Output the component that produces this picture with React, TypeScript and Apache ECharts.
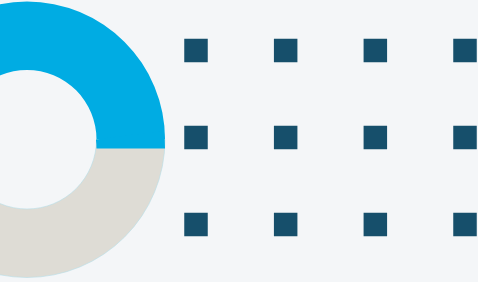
import React, { useEffect, useRef } from "react";
import * as echarts from "echarts";

// Donut shares
const donutLabels = ["Part A", "Part B"];
const donutValues = [50, 50];
const donutColors = ["#00ACE3", "#DEDCD5"];

// Grid of markers (column, row)
const markerColumns = [0, 1, 2, 3];
const markerRows = [0, 1, 2];

export default function App() {
  const ref = useRef<HTMLDivElement>(null);

  useEffect(() => {
    if (!ref.current) return;
    const chart = echarts.init(ref.current, undefined, { renderer: "svg" });

    const markerData: number[][] = [];
    markerRows.forEach((r) => markerColumns.forEach((c) => markerData.push([c, r])));

    chart.setOption({
      animation: false,
      backgroundColor: "#F4F6F8",
      grid: { left: 196, top: 50.5, width: 269, height: 174 },
      xAxis: { type: "value", min: 0, max: 3, show: false },
      yAxis: { type: "value", min: 0, max: 2, inverse: true, show: false },
      series: [
        {
          type: "pie",
          silent: true,
          center: [27, 139.5],
          radius: [69.5, 138],
          startAngle: 180,
          clockwise: true,
          label: { show: false },
          labelLine: { show: false },
          emphasis: { disabled: true },
          data: donutValues.map((v, i) => ({
            name: donutLabels[i],
            value: v,
            itemStyle: {
              color: donutColors[i],
              borderColor: i === 1 ? "#B5DDE8" : donutColors[i],
              borderWidth: i === 1 ? 0.6 : 0,
            },
          })),
        },
        {
          type: "pie",
          silent: true,
          center: [27, 148.5],
          radius: [69.5, 138],
          startAngle: 0,
          endAngle: 7.4,
          clockwise: false,
          label: { show: false },
          labelLine: { show: false },
          emphasis: { disabled: true },
          data: [{ name: donutLabels[0], value: donutValues[0], itemStyle: { color: donutColors[0] } }],
        },
        {
          type: "scatter",
          silent: true,
          clip: false,
          symbol: "rect",
          symbolSize: 23.5,
          itemStyle: { color: "#164F6B", opacity: 1 },
          data: markerData,
        },
      ],
    });

    return () => chart.dispose();
  }, []);

  return (
    <div
      ref={ref}
      style={{ position: "fixed", left: 0, top: 0, width: 478, height: 282 }}
    />
  );
}
